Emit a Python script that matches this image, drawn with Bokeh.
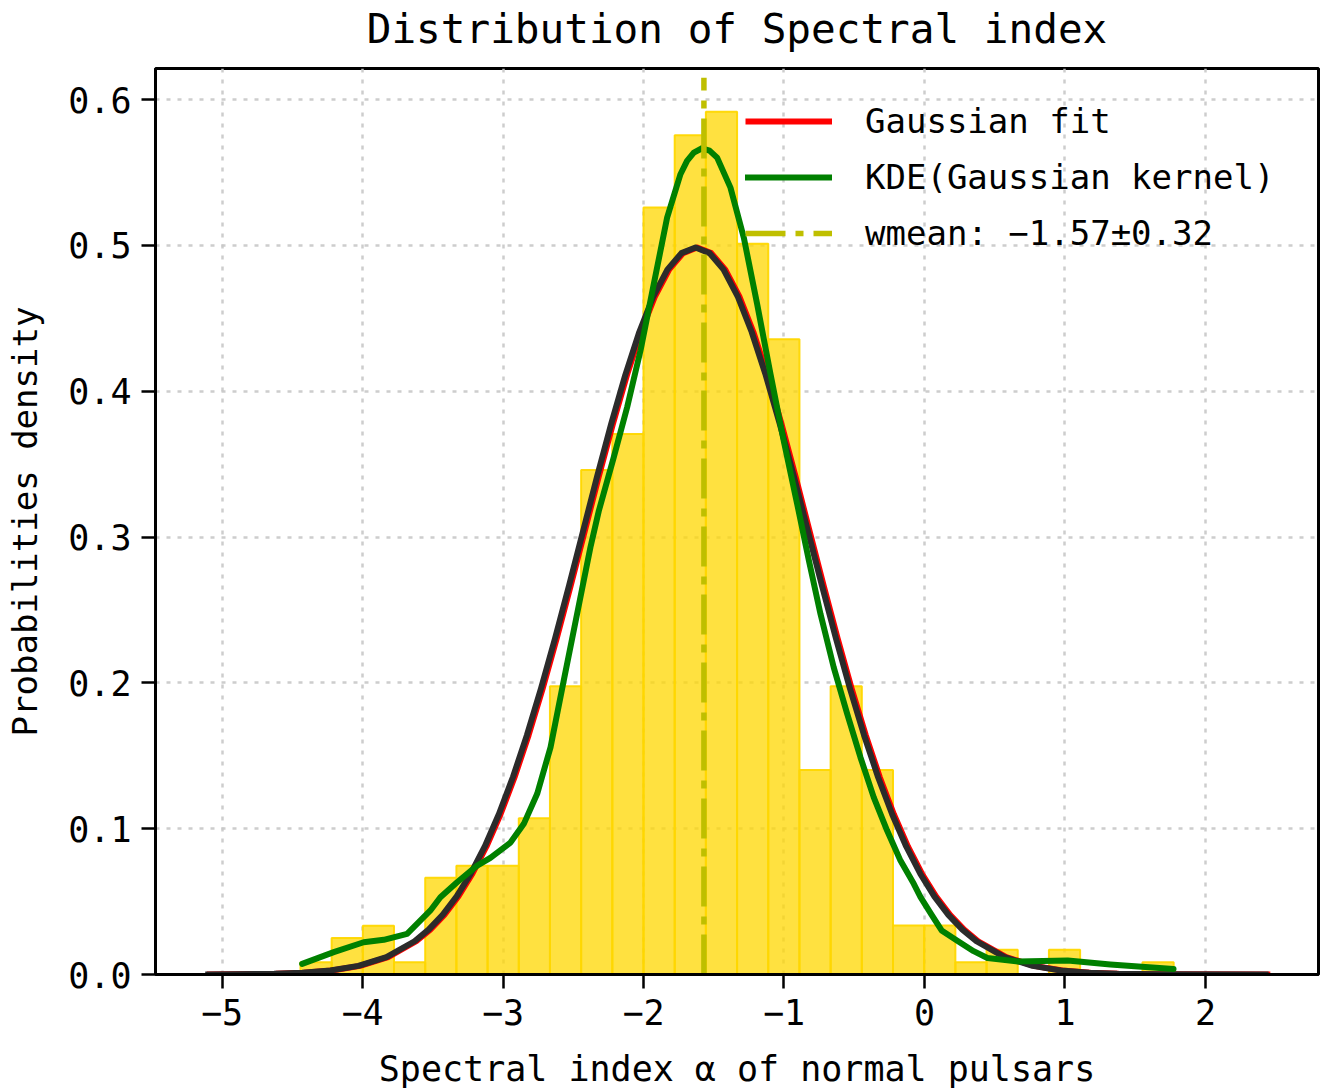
import numpy as np
from bokeh.plotting import figure
from bokeh.layouts import column
from bokeh.models import Range1d, FixedTicker, Legend, LegendItem, Label
from bokeh.embed import file_html
from bokeh.resources import INLINE

# ---------------- data ----------------
hist_start = -4.442          # left edge of first histogram bin
bin_width = 0.222            # width of each bin
density = [0.0084, 0.0251, 0.0334, 0.0084, 0.0663, 0.0745, 0.0745, 0.1071,
           0.1976, 0.3460, 0.3706, 0.5260, 0.5755, 0.5917, 0.5012, 0.4357,
           0.1403, 0.1976, 0.1403, 0.0336, 0.0336, 0.0084, 0.0169, 0.0,
           0.0169, 0.0, 0.0, 0.0084]

kde_x = [-4.430, -4.205, -3.992, -3.849, -3.683, -3.517, -3.446, -3.327,
         -3.184, -3.090, -2.947, -2.852, -2.757, -2.662, -2.568, -2.473,
         -2.378, -2.318, -2.212, -2.117, -2.022, -1.927, -1.832, -1.737,
         -1.690, -1.642, -1.583, -1.530, -1.476, -1.381, -1.286, -1.191,
         -1.096, -1.002, -0.906, -0.823, -0.740, -0.646, -0.550, -0.456,
         -0.361, -0.266, -0.171, -0.076, -0.028, 0.050, 0.122, 0.231, 0.350,
         0.448, 0.668, 1.020, 1.323, 1.773]
kde_y = [0.0073, 0.0153, 0.0221, 0.0238, 0.0279, 0.0439, 0.0530, 0.0633,
         0.0747, 0.0800, 0.0905, 0.1033, 0.1239, 0.1558, 0.2015, 0.2472,
         0.2929, 0.3180, 0.3546, 0.3888, 0.4277, 0.4734, 0.5190, 0.5488,
         0.5580, 0.5636, 0.5666, 0.5650, 0.5602, 0.5396, 0.5053, 0.4597,
         0.4117, 0.3660, 0.3226, 0.2840, 0.2472, 0.2106, 0.1787, 0.1490,
         0.1215, 0.0987, 0.0781, 0.0622, 0.0530, 0.0410, 0.0302, 0.0233,
         0.0160, 0.0113, 0.0089, 0.0096, 0.0069, 0.0037]

gauss_x = [-5.12, -4.93, -4.63, -4.43, -4.23, -4.03, -3.83, -3.63, -3.53,
           -3.43, -3.33, -3.23, -3.13, -3.03, -2.93, -2.83, -2.73, -2.63,
           -2.53, -2.43, -2.33, -2.23, -2.13, -2.03, -1.93, -1.83, -1.73,
           -1.63, -1.53, -1.43, -1.33, -1.23, -1.13, -1.03, -0.93, -0.83,
           -0.73, -0.63, -0.53, -0.43, -0.33, -0.23, -0.13, -0.03, 0.07,
           0.17, 0.27, 0.37, 0.57, 0.77, 0.97, 1.17, 1.37, 1.67, 2.45]
gauss_y = [0.0, 0.0001, 0.0005, 0.0012, 0.0027, 0.0059, 0.0119, 0.0228,
           0.0308, 0.0409, 0.0536, 0.0691, 0.0878, 0.1099, 0.1353, 0.1641,
           0.1960, 0.2304, 0.2668, 0.3042, 0.3416, 0.3776, 0.4110, 0.4406,
           0.4651, 0.4834, 0.4947, 0.4985, 0.4947, 0.4834, 0.4651, 0.4406,
           0.4110, 0.3776, 0.3416, 0.3042, 0.2668, 0.2304, 0.1960, 0.1641,
           0.1353, 0.1099, 0.0878, 0.0691, 0.0536, 0.0409, 0.0308, 0.0228,
           0.0119, 0.0059, 0.0027, 0.0012, 0.0005, 0.0001, 0.0]
fit_shift = 0.012            # red fit curve sits slightly right of the dark one

wmean = -1.57
wmean_err = 0.32
wmean_top = 0.615

x_ticks = [-5, -4, -3, -2, -1, 0, 1, 2]
x_tick_labels = ["\u22125", "\u22124", "\u22123", "\u22122", "\u22121", "0", "1", "2"]
y_ticks = [0.0, 0.1, 0.2, 0.3, 0.4, 0.5, 0.6]
y_tick_labels = ["0.0", "0.1", "0.2", "0.3", "0.4", "0.5", "0.6"]

title_text = "Distribution of Spectral index"
x_label = "Spectral index \u03b1 of normal pulsars"
y_label = "Probabilities density"
legend_labels = ["Gaussian fit", "KDE(Gaussian kernel)",
                 "wmean: \u2212%.2f\u00b1%.2f" % (abs(wmean), wmean_err)]

# ---------------- layout ----------------
FONT = "DejaVu Sans Mono"
W = 1324
TITLE_H = 64          # strip holding the title
MAIN_H = 980          # plot with frame, ticks and tick labels
XLAB_H = 47           # strip holding the x-axis label
LEFT, RIGHT = 155, 6
FRAME_CX = LEFT + (W - LEFT - RIGHT) / 2


def text_strip(height, text, size, y_pos):
    f = figure(width=W, height=height, x_range=Range1d(0, W),
               y_range=Range1d(0, height), x_axis_type=None, y_axis_type=None,
               min_border=0, min_border_left=0, min_border_right=0,
               min_border_top=0, min_border_bottom=0, frame_align=False,
               output_backend="svg", toolbar_location=None,
               background_fill_color="white", border_fill_color="white")
    f.outline_line_color = None
    f.add_layout(Label(x=FRAME_CX, y=y_pos, text=text,
                       text_font=FONT, text_font_size=size,
                       text_align="center", text_baseline="alphabetic",
                       text_color="black"))
    return f


title_fig = text_strip(TITLE_H, title_text, "41px", 35.5)
xlab_fig = text_strip(XLAB_H, x_label, "35px", 23)

p = figure(width=W, height=MAIN_H,
           min_border_left=LEFT, min_border_right=RIGHT,
           min_border_top=4, min_border_bottom=70, frame_align=False,
           x_range=Range1d(-5.474, 2.805), y_range=Range1d(0, 0.6213),
           output_backend="svg", toolbar_location=None,
           background_fill_color="white", border_fill_color="white")

p.outline_line_color = "black"
p.outline_line_width = 3
p.outline_line_alpha = 1

for ax in (p.xaxis, p.yaxis):
    ax.axis_line_color = "black"
    ax.axis_line_width = 3
    ax.major_tick_line_color = "black"
    ax.major_tick_line_width = 2.5
    ax.major_tick_out = 14
    ax.major_tick_in = 0
    ax.minor_tick_line_color = None
    ax.major_label_text_font = FONT
    ax.major_label_text_font_size = "35px"
    ax.major_label_text_color = "black"
    ax.major_label_standoff = 10
    ax.axis_label_text_font = FONT
    ax.axis_label_text_font_style = "normal"
    ax.axis_label_text_color = "black"

p.xaxis.ticker = FixedTicker(ticks=x_ticks)
p.xaxis.major_label_overrides = {t: l for t, l in zip(x_ticks, x_tick_labels)}
p.yaxis.ticker = FixedTicker(ticks=y_ticks)
p.yaxis.major_label_overrides = {t: l for t, l in zip(y_ticks, y_tick_labels)}

p.yaxis.axis_label = y_label
p.yaxis.axis_label_text_font_size = "34px"
p.yaxis.axis_label_standoff = 20

for g in (p.xgrid, p.ygrid):
    g.grid_line_color = "#c8c8c8"
    g.grid_line_width = 2.5
    g.grid_line_dash = "4 7"
    g.grid_line_alpha = 0.9
p.xgrid.ticker = FixedTicker(ticks=x_ticks)
p.ygrid.ticker = FixedTicker(ticks=y_ticks)

# histogram
edges = hist_start + bin_width * np.arange(len(density) + 1)
p.quad(left=edges[:-1], right=edges[1:], bottom=0, top=density,
       fill_color="#FFD700", fill_alpha=0.75,
       line_color="#FFD700", line_width=2, line_alpha=0.95)

# gaussian fit (red) and dark overlay curve
r_red = p.line([x + fit_shift for x in gauss_x], gauss_y,
               line_color="#ff0000", line_width=6, line_join="round")
p.line(gauss_x, gauss_y, line_color="#2b2b2b", line_width=6,
       line_join="round")

# KDE
r_kde = p.line(kde_x, kde_y, line_color="#008000", line_width=6,
               line_join="round", line_cap="round")

# weighted mean
r_wm = p.line([wmean, wmean], [0, wmean_top], line_color="#bfbf00",
              line_width=5.5, line_dash="40 10 8 10")

legend = Legend(items=[LegendItem(label=legend_labels[0], renderers=[r_red]),
                       LegendItem(label=legend_labels[1], renderers=[r_kde]),
                       LegendItem(label=legend_labels[2], renderers=[r_wm])],
                location=(590, 721))
legend.background_fill_alpha = 0
legend.border_line_alpha = 0
legend.padding = 0
legend.margin = 0
legend.glyph_width = 87
legend.glyph_height = 40
legend.label_height = 40
legend.spacing = 16
legend.label_standoff = 33
legend.label_text_font = FONT
legend.label_text_font_size = "34px"
legend.label_text_color = "black"
legend.label_text_baseline = "middle"
p.add_layout(legend)

layout = column(title_fig, p, xlab_fig, spacing=0)
open("out.html", "w").write(file_html(layout, INLINE))
